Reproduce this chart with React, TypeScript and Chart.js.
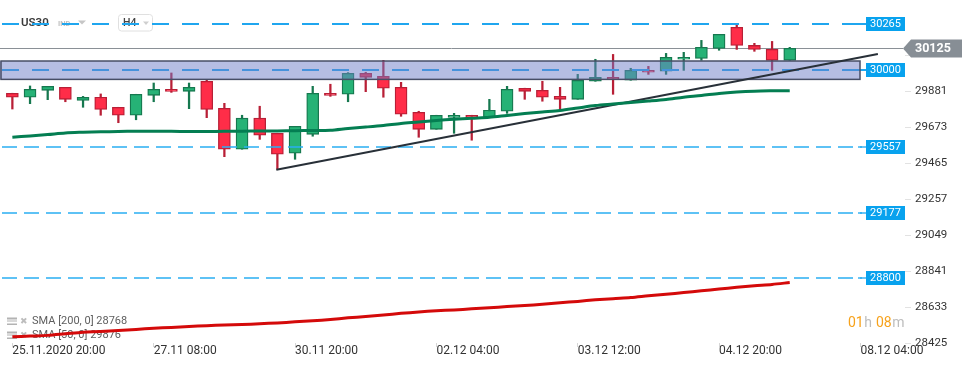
import React, { useEffect, useRef } from 'react';
import { Chart, registerables } from 'chart.js';

Chart.register(...registerables);

// ---- data ----
const opens = [29866, 29843, 29883, 29900, 29825, 29843, 29785, 29739, 29854, 29889, 29877, 29935, 29779, 29543, 29722, 29635, 29520, 29629, 29866, 29860, 29981, 29964, 29900, 29756, 29658, 29727, 29739, 29727, 29762, 29895, 29883, 29848, 29831, 29935, 29958, 29941, 29998, 29993, 30062, 30067, 30125, 30246, 30142, 30119, 30056];
const highs = [29866, 29908, 29906, 29900, 29848, 29862, 29785, 29860, 29925, 29983, 29925, 29946, 29808, 29739, 29791, 29635, 29675, 29906, 29918, 29985, 29987, 30056, 29929, 29762, 29739, 29750, 29739, 29831, 29906, 29895, 29935, 29900, 29975, 30062, 30090, 30010, 30021, 30096, 30102, 30171, 30206, 30263, 30154, 30165, 30131];
const lows = [29775, 29806, 29829, 29817, 29785, 29739, 29696, 29713, 29817, 29871, 29777, 29725, 29500, 29543, 29600, 29428, 29485, 29618, 29848, 29817, 29875, 29843, 29733, 29612, 29658, 29635, 29595, 29727, 29750, 29831, 29820, 29773, 29831, 29935, 29860, 29941, 29975, 29975, 29998, 30056, 30114, 30119, 30108, 29998, 30056];
const closes = [29843, 29889, 29906, 29831, 29843, 29773, 29739, 29860, 29889, 29877, 29900, 29773, 29543, 29722, 29624, 29514, 29675, 29866, 29854, 29981, 29958, 29895, 29745, 29658, 29739, 29739, 29727, 29768, 29889, 29877, 29843, 29831, 29941, 29958, 29946, 29998, 29987, 30073, 30073, 30131, 30206, 30142, 30119, 30056, 30125];
const sma50 = [29612, 29620, 29628, 29637, 29641, 29644, 29645, 29647, 29647, 29647, 29645, 29645, 29647, 29647, 29648, 29648, 29650, 29651, 29653, 29663, 29671, 29680, 29692, 29700, 29709, 29716, 29722, 29727, 29738, 29749, 29758, 29767, 29781, 29795, 29804, 29813, 29821, 29830, 29843, 29853, 29865, 29873, 29878, 29880, 29881];
const sma200 = [28461, 28465, 28469, 28478, 28487, 28491, 28497, 28503, 28510, 28515, 28520, 28525, 28529, 28532, 28536, 28541, 28547, 28553, 28561, 28570, 28578, 28586, 28596, 28604, 28611, 28616, 28622, 28628, 28635, 28641, 28648, 28657, 28665, 28674, 28681, 28687, 28697, 28706, 28716, 28726, 28736, 28746, 28755, 28763, 28774];
const trendX = [14.94, 48.99];
const trendY = [29424, 30092];
const levels = [30265, 30000, 29557, 29177, 28800];
const zone = [29946, 30052];
const xTickIdx = [0, 8, 16, 24, 32, 40, 48];
const xTickLabels = ['25.11.2020 20:00', '27.11 08:00', '30.11 20:00', '02.12 04:00', '03.12 12:00', '04.12 20:00', '08.12 04:00'];
const yTicks = [28425, 28633, 28841, 29049, 29257, 29465, 29673, 29881, 30089];
const yMin = 28425;
const yMax = 30404;
const xMin = -0.7;
const xMax = 48.09;
const symbol = 'US30';
const symbolType = 'IND';
const timeframe = 'H4';
const smaLabels = ['SMA [200, 0] 28768', 'SMA [50, 0] 29876'];
const countdown = [['01', 'o'], ['h', 'g'], ['08', 'o'], ['m', 'g']];

const GREEN = '#26b276';
const GREEN_D = '#16784f';
const RED = '#ff2d48';
const RED_D = '#b81f36';

const idx = opens.map((_, i) => i);
const up = idx.map(i => closes[i] >= opens[i]);

const overlayPlugin = {
  id: 'overlay',
  beforeDatasetsDraw(chart: any) {
    const { ctx, chartArea, scales } = chart;
    const y = scales.y;
    const right = chartArea.right;
    ctx.save();
    ctx.textBaseline = 'middle';
    ctx.textAlign = 'left';
    // header
    ctx.font = '600 11.5px Roboto';
    ctx.fillStyle = '#3a3a3a';
    ctx.fillText(symbol, 21, 23.5);
    ctx.font = 'bold 7.5px Roboto';
    ctx.fillStyle = '#c0c0c0';
    ctx.fillText(symbolType, 58, 24.5);
    ctx.fillStyle = '#c6c6c6';
    ctx.beginPath(); ctx.moveTo(78, 20.5); ctx.lineTo(86, 20.5); ctx.lineTo(82, 24.5); ctx.closePath(); ctx.fill();
    ctx.strokeStyle = '#e0e0e0';
    ctx.lineWidth = 1;
    ctx.beginPath();
    (ctx as any).roundRect(118.5, 14.5, 34, 16.5, 3);
    ctx.stroke();
    ctx.font = '500 10.5px Roboto';
    ctx.fillStyle = '#444';
    ctx.fillText(timeframe, 123, 23.5);
    ctx.fillStyle = '#cfcfcf';
    ctx.beginPath(); ctx.moveTo(143, 21.5); ctx.lineTo(149, 21.5); ctx.lineTo(146, 25); ctx.closePath(); ctx.fill();
    // SMA legend
    smaLabels.forEach((t, k) => {
      const yy = 321.5 + k * 14;
      ctx.fillStyle = '#b3b3b3';
      ctx.fillRect(7, yy - 4, 10, 2);
      ctx.fillRect(7, yy - 1, 10, 1);
      ctx.fillRect(7, yy + 2, 10, 1.5);
      ctx.font = '9px "DejaVu Sans"';
      ctx.fillStyle = '#bdbdbd';
      ctx.fillText('\u2716', 20, yy);
      ctx.font = '11px Roboto';
      ctx.fillStyle = '#5e5e5e';
      ctx.fillText(t, 32, yy);
    });
    // current price line
    const py = Math.round(y.getPixelForValue(closes[closes.length - 1])) + 0.5;
    ctx.strokeStyle = '#8a9096';
    ctx.lineWidth = 1;
    ctx.beginPath(); ctx.moveTo(chartArea.left, py); ctx.lineTo(right + 41, py); ctx.stroke();
    // y tick marks
    ctx.strokeStyle = '#e2e2e2';
    yTicks.forEach(v => {
      const yy = Math.round(y.getPixelForValue(v)) + 0.5;
      ctx.beginPath(); ctx.moveTo(right + 43, yy); ctx.lineTo(right + 49, yy); ctx.stroke();
    });
    ctx.restore();
  },
  afterDatasetDraw(chart: any, args: any) {
    if (args.index !== 1) return;
    const { ctx, chartArea, scales } = chart;
    const y = scales.y;
    const left = chartArea.left;
    const right = chartArea.right;
    ctx.save();
    levels.forEach((v, k) => {
      const major = k < 2;
      const yy = Math.round(y.getPixelForValue(v));
      ctx.strokeStyle = major ? '#1fa6ef' : '#2aaef2';
      ctx.lineWidth = major ? 2 : 1.4;
      ctx.setLineDash(major ? [17, 13] : [15, 7]);
      ctx.beginPath(); ctx.moveTo(left + 2, yy); ctx.lineTo(right, yy); ctx.stroke();
      ctx.setLineDash([]);
      ctx.beginPath(); ctx.moveTo(right - 4, yy); ctx.lineTo(right + 4, yy); ctx.stroke();
    });
    const yt = y.getPixelForValue(zone[1]);
    const yb = y.getPixelForValue(zone[0]);
    ctx.fillStyle = 'rgba(110,125,200,0.5)';
    ctx.fillRect(left, yt, right - 2 - left, yb - yt);
    ctx.strokeStyle = '#474e66';
    ctx.lineWidth = 1.5;
    ctx.strokeRect(left + 1, yt, right - 3 - left, yb - yt);
    ctx.restore();
  },
  afterDraw(chart: any) {
    const { ctx, chartArea, scales } = chart;
    const y = scales.y;
    const right = chartArea.right;
    ctx.save();
    ctx.textBaseline = 'middle';
    // level labels
    levels.forEach(v => {
      const yy = Math.round(y.getPixelForValue(v));
      ctx.fillStyle = '#08a2ee';
      ctx.fillRect(right + 4, yy - 7, 39, 14);
      ctx.fillStyle = '#ffffff';
      ctx.font = '11px Roboto';
      ctx.textAlign = 'center';
      ctx.fillText(String(v), right + 23.5, yy + 0.5);
    });
    // price label
    const last = closes[closes.length - 1];
    const py = Math.round(y.getPixelForValue(last)) + 0.5;
    ctx.fillStyle = '#878e95';
    ctx.beginPath();
    ctx.moveTo(right + 41, py);
    ctx.lineTo(right + 49, py - 9);
    ctx.lineTo(right + 100, py - 9);
    ctx.lineTo(right + 100, py + 9);
    ctx.lineTo(right + 49, py + 9);
    ctx.closePath();
    ctx.fill();
    ctx.fillStyle = '#ffffff';
    ctx.font = 'bold 12.5px Roboto';
    ctx.textAlign = 'left';
    ctx.fillText(String(last), right + 53, py + 0.5);
    // countdown
    ctx.font = '14px Roboto';
    let cx = right - 14;
    countdown.forEach(([t, c]) => {
      ctx.fillStyle = c === 'o' ? '#f7a21b' : '#bdbdbd';
      ctx.fillText(t, cx, 323);
      cx += ctx.measureText(t).width + (c === 'g' ? 4 : 0.5);
    });
    ctx.restore();
  },
};

export default function App() {
  const ref = useRef<HTMLCanvasElement>(null);
  useEffect(() => {
    document.body.style.margin = '0';
    const canvas = ref.current;
    if (!canvas) return;
    const chart = new Chart(canvas, {
      type: 'bar',
      data: {
        datasets: [
          {
            type: 'bar',
            label: 'wicks',
            data: idx.map(i => ({ x: i, y: [lows[i], highs[i]] })) as any,
            backgroundColor: idx.map(i => (up[i] ? GREEN_D : RED_D)),
            borderWidth: 0,
            barThickness: 1.6,
            grouped: false,
            order: 2,
          } as any,
          {
            type: 'bar',
            label: 'bodies',
            data: idx.map(i => ({ x: i, y: [opens[i], closes[i]] })) as any,
            backgroundColor: idx.map(i => (up[i] ? GREEN : RED)),
            borderColor: idx.map(i => (up[i] ? GREEN_D : RED_D)),
            borderWidth: 1.3,
            borderSkipped: false,
            barThickness: 12,
            grouped: false,
            order: 1,
          } as any,
          {
            type: 'line',
            label: 'SMA 200',
            data: idx.map(i => ({ x: i, y: sma200[i] })),
            borderColor: '#d40a0a',
            borderWidth: 3,
            pointRadius: 0,
            tension: 0.3,
            order: 0,
          } as any,
          {
            type: 'line',
            label: 'SMA 50',
            data: idx.map(i => ({ x: i, y: sma50[i] })),
            borderColor: '#047e52',
            borderWidth: 3,
            pointRadius: 0,
            tension: 0.3,
            order: 0,
          } as any,
          {
            type: 'line',
            label: 'trend',
            data: trendX.map((x, k) => ({ x, y: trendY[k] })),
            borderColor: '#283038',
            borderWidth: 2,
            pointRadius: 0,
            clip: { left: 0, top: 0, right: 20, bottom: 0 },
            order: 0,
          } as any,
        ],
      },
      options: {
        animation: false,
        responsive: false,
        devicePixelRatio: 1,
        layout: { padding: 0 },
        events: [],
        plugins: { legend: { display: false }, tooltip: { enabled: false } },
        scales: {
          x: {
            type: 'linear',
            min: xMin,
            max: xMax,
            offset: false,
            afterBuildTicks: (s: any) => { s.ticks = xTickIdx.map(v => ({ value: v })); },
            afterFit: (s: any) => { s.height = 25; s.paddingLeft = 0; s.paddingRight = 0; s.paddingTop = 0; s.paddingBottom = 0; },
            ticks: {
              autoSkip: false,
              maxRotation: 0,
              minRotation: 0,
              align: 'start',
              padding: -3,
              color: '#333',
              font: { family: 'Roboto', size: 12 },
              callback: (v: any) => { const k = xTickIdx.indexOf(v); return k >= 0 ? xTickLabels[k] : ''; },
            },
            grid: { drawOnChartArea: false, drawTicks: true, tickLength: 4, color: '#d6d6d6', offset: false },
            border: { display: false },
          },
          y: {
            type: 'linear',
            position: 'right',
            min: yMin,
            max: yMax,
            afterBuildTicks: (s: any) => { s.ticks = yTicks.map(v => ({ value: v })); },
            afterFit: (s: any) => { s.width = 112; s.paddingTop = 0; s.paddingBottom = 0; s.paddingLeft = 0; s.paddingRight = 0; },
            ticks: {
              padding: 53,
              color: '#333',
              font: { family: 'Roboto', size: 11.5 },
              callback: (v: any) => String(v),
            },
            grid: { display: false, drawTicks: false },
            border: { display: false },
          },
        },
      } as any,
      plugins: [overlayPlugin],
    });
    return () => chart.destroy();
  }, []);
  return (
    <div style={{ width: 974, height: 368, background: '#fff' }}>
      <canvas ref={ref} width={974} height={368} style={{ display: 'block', width: 974, height: 368 }} />
    </div>
  );
}
